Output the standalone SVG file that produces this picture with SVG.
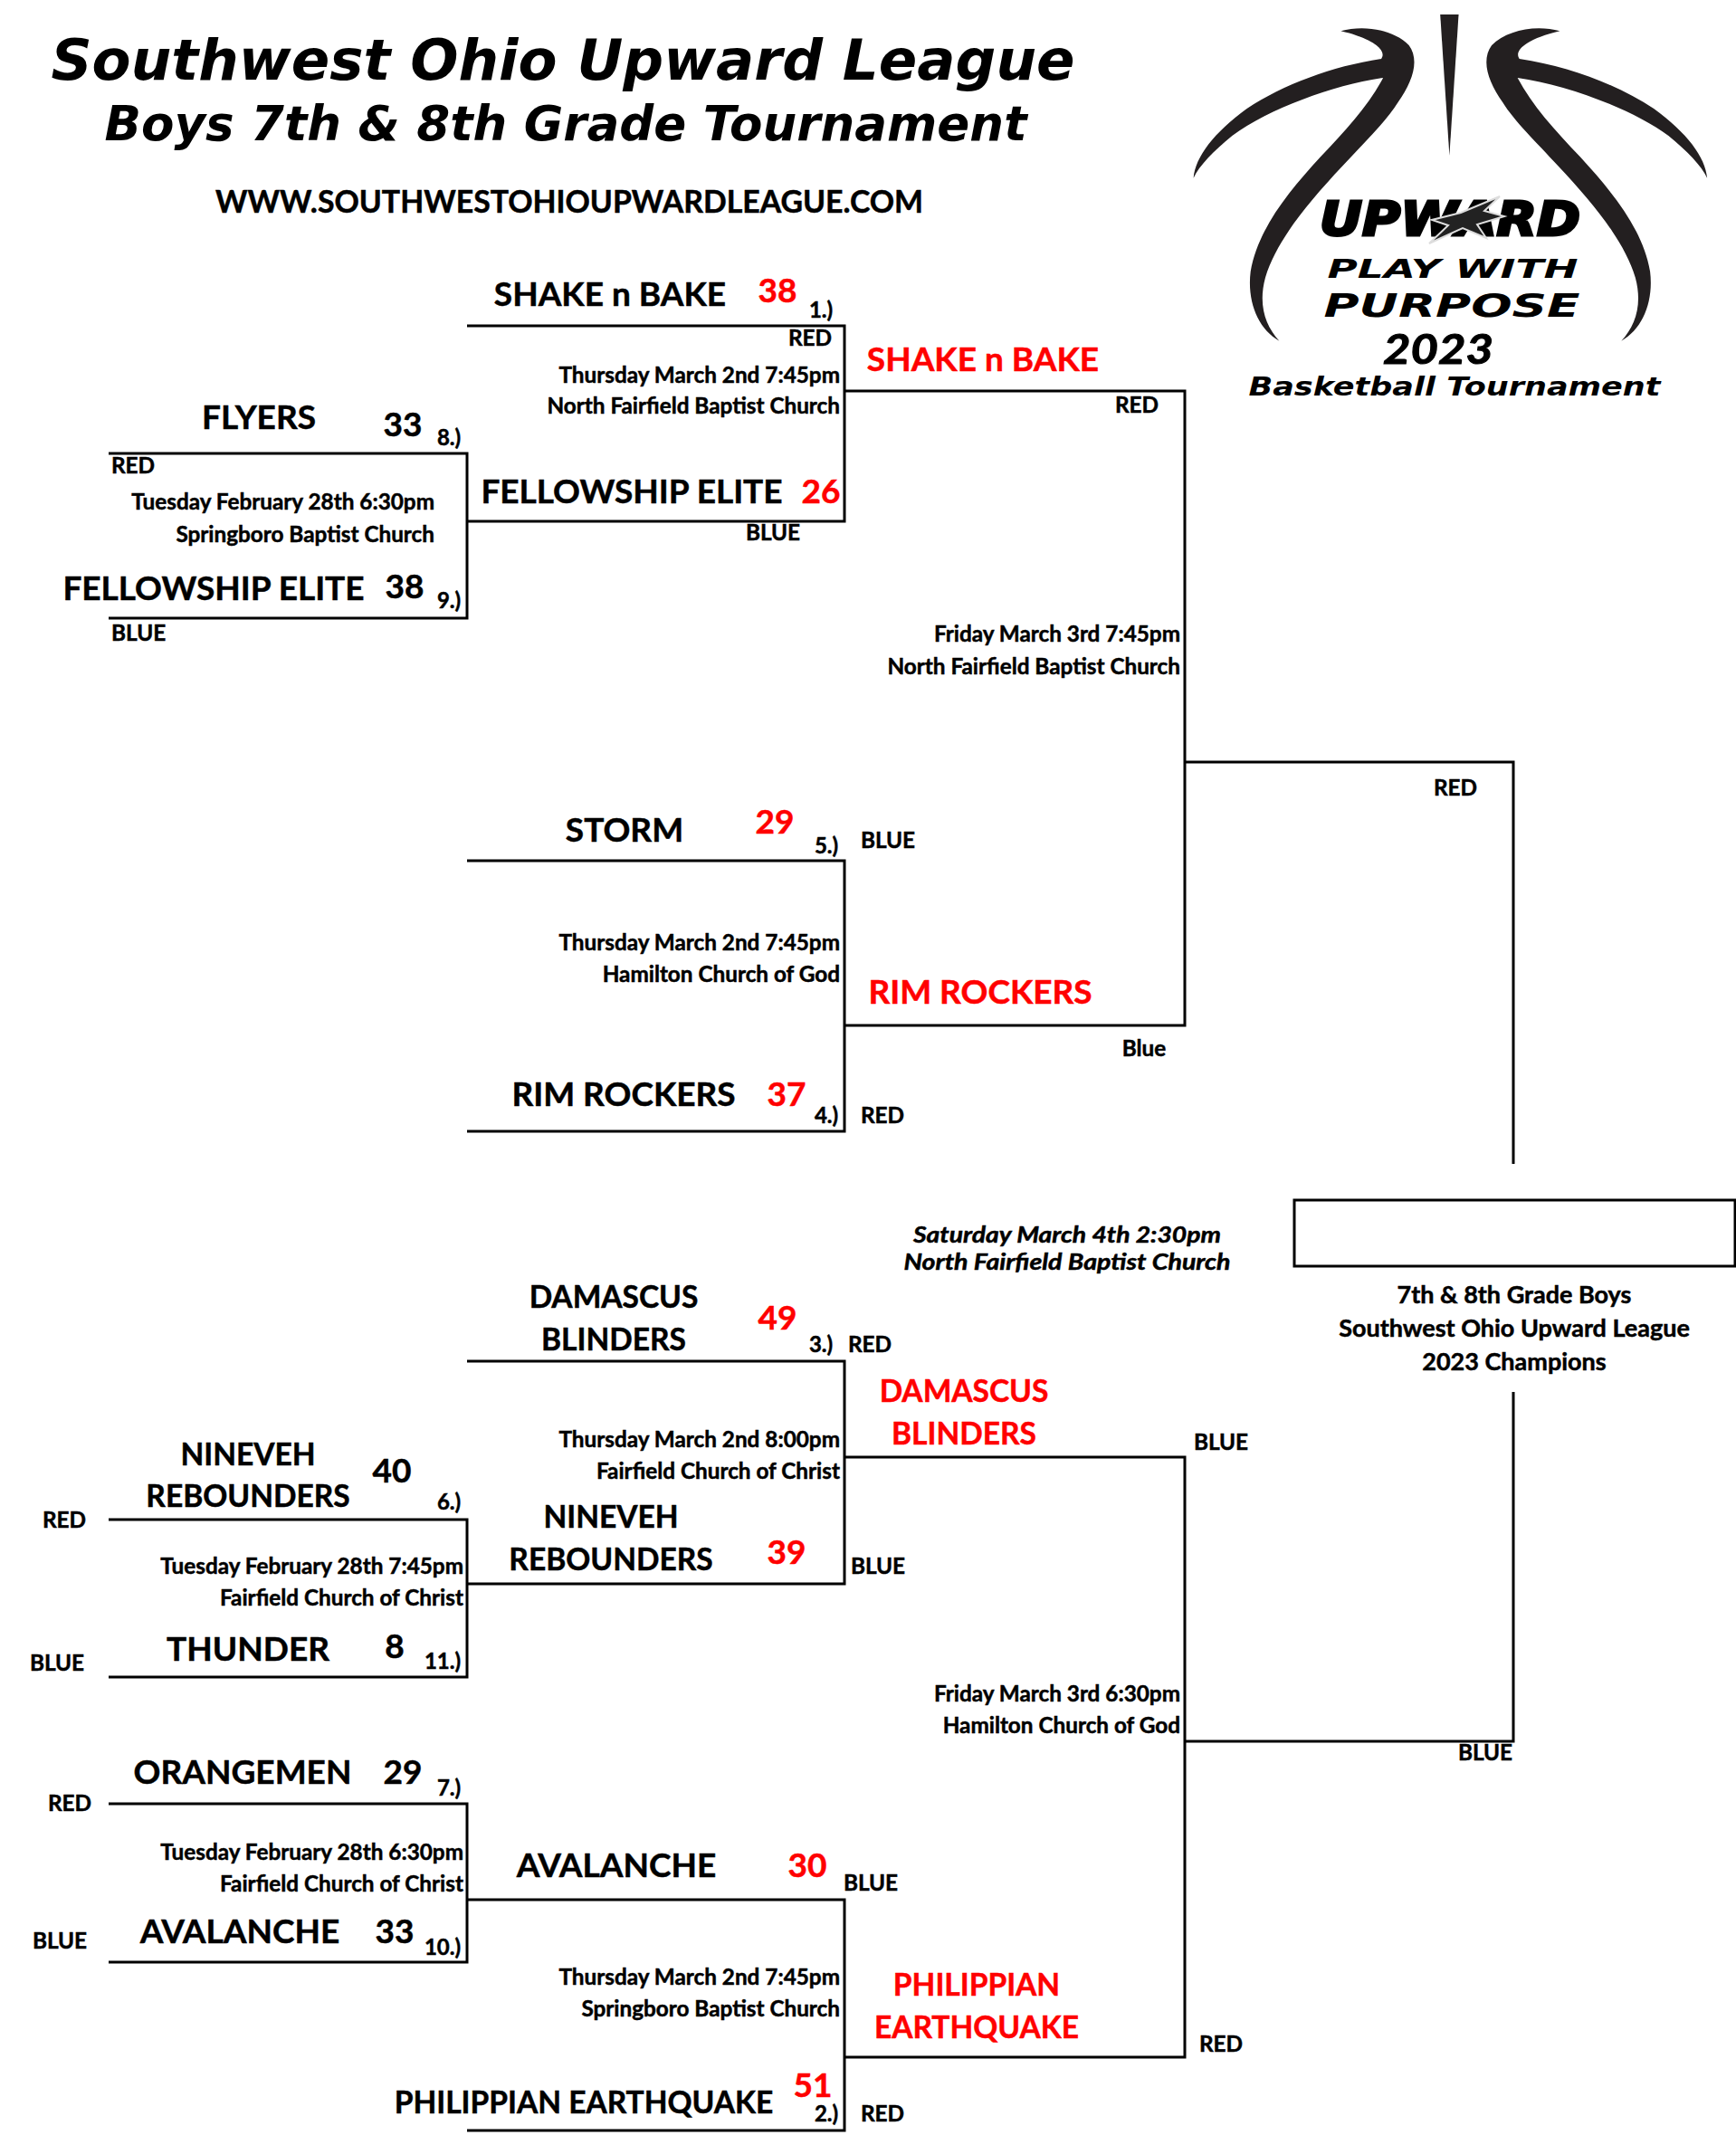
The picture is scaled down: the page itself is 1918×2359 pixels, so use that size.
<svg xmlns="http://www.w3.org/2000/svg" width="1918" height="2359" viewBox="0 0 1918 2359">
<style>
text{font-family:Lato,"Open Sans","Liberation Sans",sans-serif;font-weight:700;fill:#000;stroke:#000;stroke-width:.5px}
.team{font-size:37px;text-anchor:middle}
.two{font-size:33.5px}
text.red{fill:#f00;stroke:#f00}
.small{font-size:24.3px}
.mid{text-anchor:middle}
.end{text-anchor:end}
.seed{font-size:24px;text-anchor:middle}
.ital{font-style:italic}
.champ{font-size:27px;text-anchor:middle}
text.logo{font-family:"DejaVu Sans",sans-serif;font-style:italic;text-anchor:middle;stroke:none}
text.heavy{stroke:#000;stroke-width:3px}
#connectors path{fill:none;stroke:#000;stroke-width:3}
</style>
<defs><path id="arc" d="M495 103C560 80 640 100 680 150C710 200 690 270 650 340C620 400 560 470 500 550C400 680 320 800 290 920C270 1010 290 1080 328 1130C270 1090 240 1000 250 900C270 760 350 640 440 520C510 430 570 350 610 258C480 280 300 360 200 450C150 500 110 550 95 590C100 520 150 440 240 360C340 280 470 220 605 195C620 170 590 130 495 103Z"/></defs>
<rect width="1918" height="2359" fill="#fff"/>
<g id="header">
<text class="logo" x="622" y="88" font-size="63" textLength="1131" lengthAdjust="spacingAndGlyphs">Southwest Ohio Upward League</text>
<text class="logo" x="625" y="155" font-size="53" textLength="1019" lengthAdjust="spacingAndGlyphs">Boys 7th &amp; 8th Grade Tournament</text>
<text class="mid" x="629" y="235" font-size="34" textLength="782" lengthAdjust="spacingAndGlyphs">WWW.SOUTHWESTOHIOUPWARDLEAGUE.COM</text>
</g>
<g id="logo">
<g transform="translate(1280 0) scale(.4068 .3333)" fill="#231f20">
<path d="M765 48H815L790 515Z"/>
<use href="#arc"/>
<use href="#arc" transform="translate(1585 0) scale(-1 1)"/>
</g>
<text class="logo heavy" x="1602" y="260" font-size="52" textLength="288" lengthAdjust="spacingAndGlyphs">UPWARD</text>
<polygon points="1657,217 1640,233 1662,239 1632,248 1642,263 1616,252 1579,269 1600,249 1582,243 1614,235" fill="#222" stroke="#ddd" stroke-width="2"/>
<text class="logo" x="1605" y="307" font-size="28" textLength="277" lengthAdjust="spacingAndGlyphs">PLAY WITH</text>
<text class="logo" x="1604" y="350" font-size="35" textLength="283" lengthAdjust="spacingAndGlyphs">PURPOSE</text>
<text class="ital mid" x="1589" y="402" font-size="46" textLength="122" lengthAdjust="spacingAndGlyphs" style="stroke-width:1px">2023</text>
<text class="logo" x="1607" y="437" font-size="28" textLength="455" lengthAdjust="spacingAndGlyphs">Basketball Tournament</text>
</g>
<g id="connectors">
<path d="M516 360H933V576H516"/>
<path d="M120 501H516V683H120"/>
<path d="M933 432H1309V1133H933"/>
<path d="M516 951H933V1250H516"/>
<path d="M1309 842H1672V1286"/>
<path d="M516 1504H933V1750H516"/>
<path d="M120 1679H516V1853H120"/>
<path d="M933 1610H1309V2273H933"/>
<path d="M1309 1924H1672V1538"/>
<path d="M120 1993H516V2168H120"/>
<path d="M516 2099H933V2354H516"/>
</g>
<g id="final-box"><rect x="1430" y="1326" width="487" height="73" fill="none" stroke="#000" stroke-width="3"/></g>
<g id="seed1"><text class="team" x="674" y="338">SHAKE n BAKE</text><text class="team red" x="859" y="334">38</text><text class="seed" x="907" y="351">1.)</text><text class="small mid" x="895" y="382">RED</text></g>
<g id="game-qf1"><text class="small end" x="928" y="423">Thursday March 2nd 7:45pm</text><text class="small end" x="928" y="457">North Fairfield Baptist Church</text></g>
<g id="winner-top1"><text class="team red" x="1086" y="410">SHAKE n BAKE</text><text class="small mid" x="1256" y="456">RED</text></g>
<g id="seed8"><text class="team" x="286" y="474">FLYERS</text><text class="team" x="445" y="482">33</text><text class="seed" x="496" y="492">8.)</text><text class="small" x="123" y="523">RED</text></g>
<g id="game-r1a"><text class="small end" x="480" y="563">Tuesday February 28th 6:30pm</text><text class="small end" x="480" y="599">Springboro Baptist Church</text></g>
<g id="winner-fellowship"><text class="team" x="698" y="556">FELLOWSHIP ELITE</text><text class="team red" x="907" y="556">26</text><text class="small mid" x="854" y="597">BLUE</text></g>
<g id="seed9"><text class="team" x="236" y="663">FELLOWSHIP ELITE</text><text class="team" x="447" y="661">38</text><text class="seed" x="496" y="672">9.)</text><text class="small" x="123" y="708">BLUE</text></g>
<g id="game-sf1"><text class="small end" x="1304" y="709">Friday March 3rd 7:45pm</text><text class="small end" x="1304" y="745">North Fairfield Baptist Church</text><text class="small mid" x="1608" y="879">RED</text></g>
<g id="seed5"><text class="team" x="690" y="930">STORM</text><text class="team red" x="856" y="921">29</text><text class="seed" x="913" y="943">5.)</text><text class="small mid" x="981" y="937">BLUE</text></g>
<g id="game-qf2"><text class="small end" x="928" y="1050">Thursday March 2nd 7:45pm</text><text class="small end" x="928" y="1085">Hamilton Church of God</text></g>
<g id="winner-rim"><text class="team red" x="1083" y="1109">RIM ROCKERS</text><text class="small mid" x="1264" y="1167">Blue</text></g>
<g id="seed4"><text class="team" x="689" y="1222">RIM ROCKERS</text><text class="team red" x="869" y="1222">37</text><text class="seed" x="913" y="1241">4.)</text><text class="small mid" x="975" y="1241">RED</text></g>
<g id="game-final"><text class="small mid ital" x="1179" y="1373" textLength="340" lengthAdjust="spacingAndGlyphs">Saturday March 4th 2:30pm</text><text class="small mid ital" x="1179" y="1403" textLength="361" lengthAdjust="spacingAndGlyphs">North Fairfield Baptist Church</text></g>
<g id="champions"><text class="champ" x="1673" y="1440">7th &amp; 8th Grade Boys</text><text class="champ" x="1673" y="1477">Southwest Ohio Upward League</text><text class="champ" x="1673" y="1514">2023 Champions</text></g>
<g id="seed3"><text class="team two" x="678" y="1445">DAMASCUS</text><text class="team two" x="678" y="1492">BLINDERS</text><text class="team red" x="859" y="1469">49</text><text class="seed" x="907" y="1494">3.)</text><text class="small mid" x="961" y="1494">RED</text></g>
<g id="winner-damascus"><text class="team two red" x="1065" y="1549">DAMASCUS</text><text class="team two red" x="1065" y="1596">BLINDERS</text><text class="small mid" x="1349" y="1602">BLUE</text></g>
<g id="game-qf3"><text class="small end" x="928" y="1599">Thursday March 2nd 8:00pm</text><text class="small end" x="928" y="1634">Fairfield Church of Christ</text></g>
<g id="seed6"><text class="team two" x="274" y="1619">NINEVEH</text><text class="team two" x="274" y="1665">REBOUNDERS</text><text class="team" x="433" y="1638">40</text><text class="seed" x="496" y="1668">6.)</text><text class="small mid" x="71" y="1688">RED</text></g>
<g id="winner-nineveh"><text class="team two" x="675" y="1688">NINEVEH</text><text class="team two" x="675" y="1735">REBOUNDERS</text><text class="team red" x="869" y="1728">39</text><text class="small mid" x="970" y="1739">BLUE</text></g>
<g id="game-r1b"><text class="small end" x="512" y="1739">Tuesday February 28th 7:45pm</text><text class="small end" x="512" y="1774">Fairfield Church of Christ</text></g>
<g id="seed11"><text class="team" x="274" y="1835">THUNDER</text><text class="team" x="436" y="1832">8</text><text class="seed" x="489" y="1844">11.)</text><text class="small mid" x="63" y="1846">BLUE</text></g>
<g id="game-sf2"><text class="small end" x="1304" y="1880">Friday March 3rd 6:30pm</text><text class="small end" x="1304" y="1915">Hamilton Church of God</text><text class="small mid" x="1641" y="1945">BLUE</text></g>
<g id="seed7"><text class="team" x="268" y="1971">ORANGEMEN</text><text class="team" x="445" y="1971">29</text><text class="seed" x="496" y="1984">7.)</text><text class="small mid" x="77" y="2001">RED</text></g>
<g id="game-r1c"><text class="small end" x="512" y="2055">Tuesday February 28th 6:30pm</text><text class="small end" x="512" y="2090">Fairfield Church of Christ</text></g>
<g id="winner-avalanche"><text class="team" x="681" y="2074">AVALANCHE</text><text class="team red" x="892" y="2074">30</text><text class="small mid" x="962" y="2089">BLUE</text></g>
<g id="seed10"><text class="team" x="265" y="2147">AVALANCHE</text><text class="team" x="436" y="2147">33</text><text class="seed" x="489" y="2160">10.)</text><text class="small mid" x="66" y="2153">BLUE</text></g>
<g id="game-qf4"><text class="small end" x="928" y="2193">Thursday March 2nd 7:45pm</text><text class="small end" x="928" y="2228">Springboro Baptist Church</text></g>
<g id="winner-philippian"><text class="team two red" x="1079" y="2205">PHILIPPIAN</text><text class="team two red" x="1079" y="2252">EARTHQUAKE</text><text class="small mid" x="1349" y="2267">RED</text></g>
<g id="seed2"><text class="team two" x="645" y="2335">PHILIPPIAN EARTHQUAKE</text><text class="team red" x="898" y="2317">51</text><text class="seed" x="913" y="2344">2.)</text><text class="small mid" x="975" y="2344">RED</text></g>
</svg>
